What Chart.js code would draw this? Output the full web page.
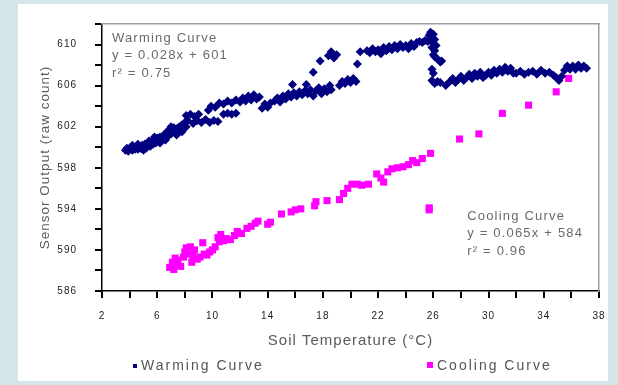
<!DOCTYPE html>
<html>
<head>
<meta charset="utf-8">
<script src="https://cdn.jsdelivr.net/npm/chart.js@4.4.0/dist/chart.umd.min.js"></script>
<style>
    html, body { margin: 0; padding: 0; background: #d5e6e9; }
    #panel { position: absolute; left: 18px; top: 4px; width: 590px; height: 377px; background: #ffffff; }
    #wrap { position: absolute; left: 0; top: 0; width: 618px; height: 385px; }
</style>
</head>
<body>
<div id="panel"></div>
<div id="wrap"><canvas id="sensorChart" width="618" height="385"></canvas></div>
<script>
// Warming curve
const warmX = [
    3.7, 3.8, 3.9, 4.0, 4.1, 4.2, 4.3, 4.4, 4.5, 4.6, 4.7, 4.8, 4.9, 5.0, 5.1, 5.2, 5.3, 5.4, 5.5,
    4.2, 4.6, 5.0, 5.4,
    5.6, 5.7, 5.8, 5.9, 6.0, 6.1, 6.2, 6.3, 6.4, 6.5, 6.6,
    5.8, 6.2, 6.6,
    6.7, 6.8, 6.9, 7.0, 7.1, 7.2, 7.3, 7.4, 7.5, 7.6, 7.7, 7.8, 7.9, 8.0, 8.1, 8.2,
    7.0, 7.4, 7.8,
    8.1, 8.4, 8.7, 9.0,
    8.6, 8.9, 9.2, 9.5, 9.8, 10.1, 10.4,
    9.7, 9.9, 10.2, 10.5, 10.8, 11.1, 11.4, 11.7,
    10.8, 11.1, 11.4, 11.7,
    12.0, 12.2, 12.4, 12.6, 12.8, 13.0, 13.2, 13.4,
    13.6, 13.8, 14.0, 14.2,
    14.5, 14.7, 14.9, 15.1, 15.3, 15.5, 15.7, 15.8, 15.9, 16.1, 16.3, 16.5, 16.8, 16.7, 16.9, 17.1,
    17.3, 17.5, 17.7, 17.9, 18.1, 18.3, 18.5, 18.6,
    17.3, 17.8, 18.4, 18.6, 18.8, 19.0,
    19.2, 19.4, 19.6, 19.8, 20.0, 20.2, 20.4, 20.5, 20.7,
    21.2, 21.4, 21.6, 21.8, 22.0, 22.2, 22.4, 22.6, 22.8, 23.0, 23.2, 23.4, 23.6, 23.8, 24.0, 24.2,
    24.4, 24.6, 24.8, 25.0, 25.2, 25.4, 25.6,
    25.7, 25.8, 25.9, 26.0, 26.1, 26.0, 25.9, 26.1, 26.2, 26.0, 26.3, 26.5, 26.1, 26.6,
    25.9, 26.0, 25.9, 26.1, 26.3, 26.5, 26.9,
    27.2, 27.4, 27.6, 27.8, 28.0, 28.2, 28.4, 28.6, 28.8, 29.0, 29.2, 29.4, 29.6, 29.8,
    30.0, 30.2, 30.4, 30.6, 30.8, 31.0, 31.2, 31.4, 31.6, 31.8,
    32.0, 32.3, 32.6, 32.9, 33.2, 33.5, 33.8, 34.1, 34.4, 34.7,
    34.9, 35.1, 35.3,
    35.5, 35.7, 35.9, 36.1, 36.3, 36.5, 36.7, 36.9, 37.1
];
const warmY = [
    599.7, 599.9, 599.6, 599.8, 600.0, 599.7, 599.9, 599.8, 600.1, 599.8, 600.0, 599.9, 600.2, 600.0, 600.3, 599.9, 600.2, 600.4, 600.1,
    600.2, 600.3, 599.7, 600.6,
    600.5, 600.3, 600.7, 600.4, 600.9, 600.6, 601.0, 600.7, 601.1, 600.8, 601.2,
    601.0, 600.4, 600.7,
    601.5, 601.1, 601.7, 601.3, 601.6, 601.9, 601.4, 601.8, 601.5, 602.0, 601.6, 602.2, 601.8, 602.4, 602.0, 602.6,
    602.0, 601.2, 601.5,
    603.1, 603.2, 603.0, 603.2,
    602.3, 602.6, 602.4, 602.7, 602.4, 602.6, 602.5,
    603.6, 604.0, 603.9, 604.3, 604.2, 604.5, 604.3, 604.6,
    603.2, 603.3, 603.2, 603.3,
    604.4, 604.8, 604.5, 605.0, 604.6, 605.1, 604.7, 604.9,
    603.8, 604.2, 603.9, 604.3,
    604.5, 604.8, 604.4, 605.0, 604.7, 605.2, 604.9, 606.1, 605.3, 605.0, 605.4, 605.1, 606.1, 605.5, 605.2, 605.6,
    605.0, 605.5, 605.8, 605.2, 605.7, 605.4, 606.0, 605.6,
    607.3, 608.4, 608.9, 609.3, 608.7, 609.0,
    606.0, 606.4, 606.2, 606.6, 606.3, 606.7, 606.4, 608.1, 609.3,
    609.4, 609.2, 609.6, 609.3, 609.5, 609.1, 609.7, 609.4, 609.8, 609.5, 609.9, 609.6, 610.0, 609.7, 609.9, 609.6,
    610.1, 609.8, 610.2, 610.3, 610.2, 610.4, 610.3,
    610.9, 611.2, 610.6, 611.0, 610.5, 610.1, 609.7, 609.4, 609.9, 609.0, 608.6, 608.3, 608.8, 608.4,
    607.6, 607.2, 606.5, 606.2, 606.4, 606.3, 606.0,
    606.4, 606.7, 606.3, 606.6, 606.9, 606.5, 606.8, 607.1, 606.7, 607.2, 606.9, 607.3, 606.8, 607.0,
    607.3, 607.0, 607.5, 607.2, 607.6, 607.3, 607.8, 607.4, 607.7, 607.2,
    607.2, 607.4, 607.1, 607.3, 607.4, 607.1, 607.5, 607.2, 607.3, 607.0,
    606.8, 606.5, 606.9,
    607.5, 607.9, 607.6, 607.9, 607.6, 608.0, 607.7, 607.9, 607.7
];

// Cooling curve
const coolX = [
    6.9, 7.1, 7.2, 7.4, 7.5, 7.3, 7.7, 7.9, 8.0, 8.1, 8.3, 8.4, 8.5, 8.6, 8.7, 8.9, 9.1, 9.3, 9.4, 9.6,
    9.8, 10.0, 10.2, 10.4, 10.5, 10.6, 10.8, 11.0, 11.3, 11.6, 11.8, 12.1, 12.5, 12.8, 13.1, 13.3,
    14.0, 14.2, 15.0, 15.7, 16.0, 16.4, 17.4, 17.5, 18.3, 19.2, 19.5, 19.8, 20.1, 20.5, 20.8, 21.3,
    21.9, 22.2, 22.4, 22.7, 23.0, 23.4, 23.8, 24.2, 24.5, 24.8, 25.2, 25.8, 25.7, 25.7,
    27.9, 29.3, 31.0, 32.9, 34.9, 35.8
];
const coolY = [
    588.3, 588.8, 588.1, 588.6, 589.0, 589.2, 588.4, 589.3, 589.8, 590.2, 589.6, 590.3, 588.8, 589.4, 590.0, 589.1, 589.3, 590.7, 589.6, 589.5,
    589.8, 590.0, 590.3, 591.2, 590.8, 591.5, 590.9, 591.1, 591.0, 591.4, 591.8, 591.6, 592.1, 592.3, 592.6, 592.8,
    592.5, 592.7, 593.5, 593.7, 593.9, 594.0, 594.3, 594.7, 594.8, 594.9, 595.5, 596.0, 596.4, 596.4, 596.3, 596.4,
    597.4, 597.0, 596.6, 597.6, 597.9, 598.0, 598.1, 598.3, 598.7, 598.5, 598.9, 599.4, 594.1, 593.9,
    600.8, 601.3, 603.3, 604.1, 605.4, 606.7
];

const seriesNames = ['Warming Curve', 'Cooling Curve'];
const seriesColors = ['#000080', '#ff00ff'];
const xTickLabels = [2, 6, 10, 14, 18, 22, 26, 30, 34, 38];
const yTickLabels = [586, 590, 594, 598, 602, 606, 610];
const warmNote = ['Warming Curve', 'y = 0.028x + 601', 'r\u00B2 = 0.75'];
const coolNote = ['Cooling Curve', 'y = 0.065x + 584', 'r\u00B2 = 0.96'];

function toPoints(xs, ys) {
    return xs.map((x, i) => ({ x: x, y: ys[i] }));
}

// the original text is drawn wide, so space the letters a little
const letterSpacing = {
    id: 'letterSpacing',
    beforeLayout(chart) { chart.ctx.letterSpacing = '1px'; },
    beforeDraw(chart) { chart.ctx.letterSpacing = '1px'; }
};

// fit lines text + the legend row under the axis title
const notesAndLegend = {
    id: 'notesAndLegend',
    afterDraw(chart) {
        const ctx = chart.ctx;
        const x = chart.scales.x;
        const y = chart.scales.y;
        ctx.save();
        ctx.letterSpacing = '1.2px';
        ctx.font = '13px "Liberation Sans", Arial, sans-serif';
        ctx.fillStyle = '#6a6a6a';
        ctx.textBaseline = 'middle';
        ctx.textAlign = 'left';
        warmNote.forEach((t, i) => ctx.fillText(t, x.getPixelForValue(2.72), y.getPixelForValue(610.6) + i * 17.5));
        coolNote.forEach((t, i) => ctx.fillText(t, x.getPixelForValue(28.45), y.getPixelForValue(593.3) + i * 17.5));

        ctx.letterSpacing = '2px';
        ctx.font = '14px "Liberation Sans", Arial, sans-serif';
        ctx.fillStyle = seriesColors[0];
        ctx.fillRect(133, 364, 4, 4);
        ctx.fillStyle = seriesColors[1];
        ctx.fillRect(427, 362, 6, 6);
        ctx.fillStyle = '#555555';
        ctx.fillText(seriesNames[0], 141, 366);
        ctx.fillText(seriesNames[1], 437, 366);
        ctx.restore();
    }
};

const axisGrid = {
    display: true,
    drawOnChartArea: false,
    drawTicks: true,
    tickLength: 7,
    color: '#000000',
    lineWidth: 2,
    tickColor: '#000000',
    tickWidth: 2
};

const ctx = document.getElementById('sensorChart').getContext('2d');
const sensorChart = new Chart(ctx, {
    type: 'scatter',
    data: {
        datasets: [
            {
                label: seriesNames[0],
                data: toPoints(warmX, warmY),
                backgroundColor: seriesColors[0],
                borderWidth: 0,
                pointStyle: 'rectRot',
                pointRadius: 4.5,
            },
            {
                label: seriesNames[1],
                data: toPoints(coolX, coolY),
                backgroundColor: seriesColors[1],
                borderWidth: 0,
                pointStyle: 'rect',
                pointRadius: 5,
            }
        ]
    },
    options: {
        responsive: false,
        animation: false,
        layout: {
            padding: { left: 33, top: 23, right: 19, bottom: 32 }
        },
        scales: {
            x: {
                type: 'linear',
                min: 2,
                max: 38,
                afterFit: (scale) => { scale.height = 62; },
                ticks: {
                    stepSize: 2,
                    autoSkip: false,
                    maxRotation: 0,
                    padding: 12,
                    color: '#222222',
                    font: { family: '"Liberation Sans", Arial, sans-serif', size: 10 },
                    callback: (v) => xTickLabels.includes(v) ? String(v) : ''
                },
                grid: axisGrid,
                border: { color: '#000000', width: 1.5 },
                title: {
                    display: true,
                    text: 'Soil Temperature (\u00B0C)',
                    color: '#5a5a5a',
                    padding: { top: 0, bottom: 3 },
                    font: { family: '"Liberation Sans", Arial, sans-serif', size: 15 }
                }
            },
            y: {
                type: 'linear',
                min: 586,
                max: 612,
                afterFit: (scale) => { scale.width = 69; },
                ticks: {
                    stepSize: 2,
                    autoSkip: false,
                    padding: 18,
                    color: '#222222',
                    font: { family: '"Liberation Sans", Arial, sans-serif', size: 10 },
                    callback: (v) => yTickLabels.includes(v) ? String(v) : ''
                },
                grid: axisGrid,
                border: { color: '#000000', width: 1.5 },
                title: {
                    display: true,
                    text: 'Sensor Output (raw count)',
                    color: '#5a5a5a',
                    padding: { top: 4, bottom: 0 },
                    font: { family: '"Liberation Sans", Arial, sans-serif', size: 13.5 }
                }
            },
            // frame on the top and right side
            x2: {
                type: 'linear',
                position: 'top',
                ticks: { display: false },
                grid: { display: false, drawTicks: false },
                border: { color: '#a0a0a0', width: 1.5 }
            },
            y2: {
                type: 'linear',
                position: 'right',
                ticks: { display: false },
                grid: { display: false, drawTicks: false },
                border: { color: '#a0a0a0', width: 1.5 }
            }
        },
        plugins: {
            legend: { display: false },
            tooltip: { enabled: false }
        }
    },
    plugins: [letterSpacing, notesAndLegend]
});
</script>
</body>
</html>
